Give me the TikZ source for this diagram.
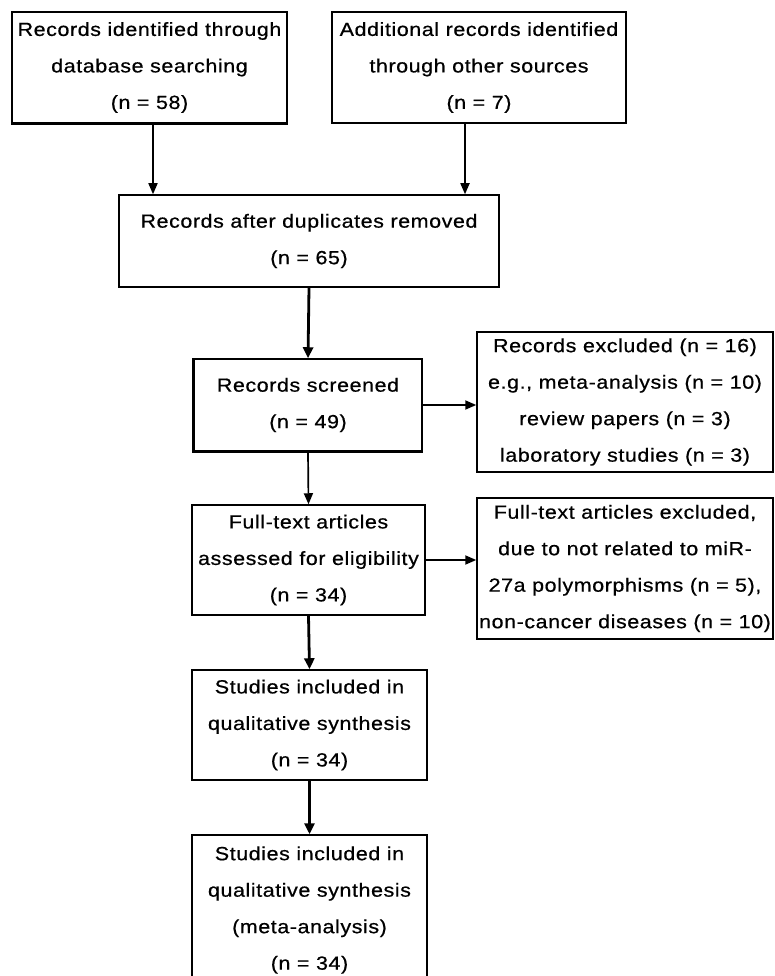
\documentclass[tikz,border=0pt]{standalone}
\usepackage{fontspec}
\setmainfont{Liberation Sans}[FakeStretch=1.13,LetterSpace=3,FakeBold=0.6]
\usetikzlibrary{arrows.meta}
\begin{document}
\begin{tikzpicture}[x=1pt,y=-1pt,
  box/.style={draw, line width=1.5pt, inner sep=0pt, align=center,
    font=\fontsize{19}{36.5}\selectfont},
  arr/.style={-{Triangle[length=11pt,width=9pt]}, line width=1.7pt},
  thickarr/.style={-{Triangle[length=11pt,width=10pt]}, line width=2.8pt},
  edge/.style={line width=3pt}]
\useasboundingbox (0,0) rectangle (774,976);
\clip (0,0) rectangle (774,976);
\fill[white] (0,0) rectangle (774,976);

\node[box, minimum width=275pt, minimum height=111pt] (b1) at (149.5,67.5)
  {Records identified through\\database searching\\(n = 58)};
\node[box, minimum width=294pt, minimum height=111pt] (b2) at (479,67.5)
  {Additional records identified\\through other sources\\(n = 7)};
\node[box, minimum width=380pt, minimum height=92pt] (b3) at (309,241)
  {Records after duplicates removed\\(n = 65)};
\node[box, minimum width=228pt, minimum height=92pt] (b4) at (308,405)
  {Records screened\\(n = 49)};
\node[box, minimum width=296pt, minimum height=140pt] (ex1) at (625,402)
  {Records excluded (n = 16)\\e.g., meta-analysis (n = 10)\\review papers (n = 3)\\laboratory studies (n = 3)};
\node[box, minimum width=233pt, minimum height=110pt] (b5) at (308.5,560)
  {Full-text articles\\assessed for eligibility\\(n = 34)};
\node[box, minimum width=296pt, minimum height=141pt] (ex2) at (625,568.5)
  {Full-text articles excluded,\\due to not related to miR-\\27a polymorphisms (n = 5),\\non-cancer diseases (n = 10)};
\node[box, minimum width=235pt, minimum height=110pt] (b6) at (309.5,725)
  {Studies included in\\qualitative synthesis\\(n = 34)};
\node[box, minimum width=235pt, minimum height=150pt] (b7) at (309.5,910)
  {Studies included in\\qualitative synthesis\\(meta-analysis)\\(n = 34)};

\draw[edge] (b1.south west) -- (b1.south east);
\draw[edge] (b4.north west) -- (b4.south west) -- (b4.south east);

\coordinate (c1) at (153,0);
\coordinate (c2) at (465,0);
\draw[arr] (b1.south -| c1) -- (b3.north -| c1);
\draw[arr] (b2.south -| c2) -- (b3.north -| c2);
\draw[thickarr] (b3.south) -- (b4.north);
\draw[arr] (b4.south) -- (b5.north);
\draw[thickarr] (b5.south) -- (b6.north);
\draw[thickarr] (b6.south) -- (b7.north);
\draw[arr, line width=1.8pt] (b4.east) -- (b4.east -| ex1.west);
\draw[arr, line width=1.8pt] (b5.east) -- (b5.east -| ex2.west);
\end{tikzpicture}
\end{document}
